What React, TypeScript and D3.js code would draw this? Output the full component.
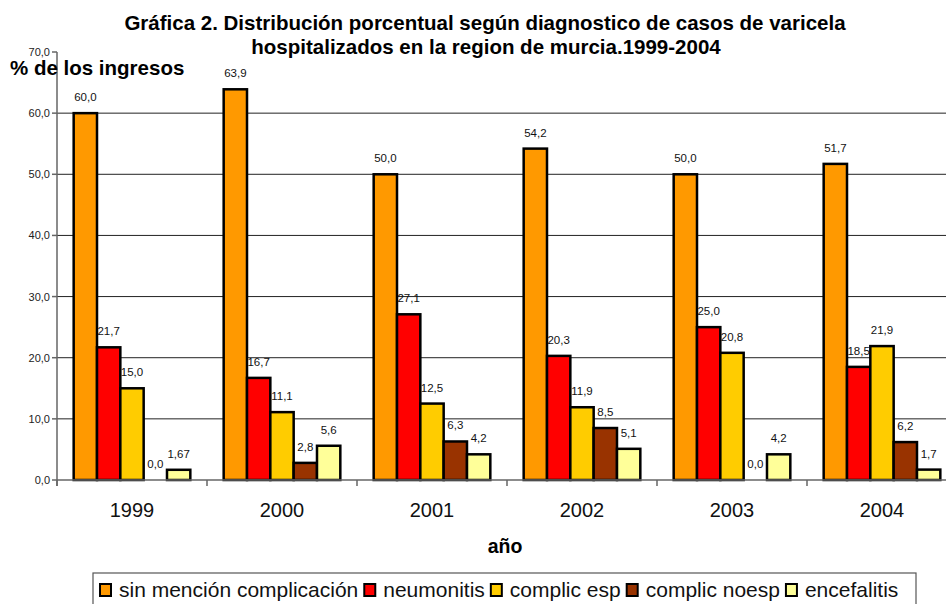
import { scaleBand, scaleLinear, range } from "d3";

const years = ["1999", "2000", "2001", "2002", "2003", "2004"];
const seriesNames = [
  "sin mención complicación",
  "neumonitis",
  "complic esp",
  "complic noesp",
  "encefalitis",
];
const sinMencion = [60.0, 63.9, 50.0, 54.2, 50.0, 51.7];
const neumonitis = [21.7, 16.7, 27.1, 20.3, 25.0, 18.5];
const complicEsp = [15.0, 11.1, 12.5, 11.9, 20.8, 21.9];
const complicNoesp = [0.0, 2.8, 6.3, 8.5, 0.0, 6.2];
const encefalitis = [1.67, 5.6, 4.2, 5.1, 4.2, 1.7];
const seriesColors = ["#FF9900", "#FF0000", "#FFCC00", "#993300", "#FFFF99"];
const yTicks = range(0, 71, 10);

const FONT = "'Liberation Sans', Arial, sans-serif";

function fmt(v: number) {
  const s = Math.round(v * 10) === v * 10 ? v.toFixed(1) : v.toFixed(2);
  return s.replace(".", ",");
}

function textWidth(str: string, size: number) {
  const c = document.createElement("canvas").getContext("2d");
  if (!c) return str.length * size * 0.5;
  c.font = `${size}px ${FONT}`;
  return c.measureText(str).width;
}

export default function App() {
  const W = 946;
  const H = 604;
  const left = 57;
  const top = 52;
  const bottom = 480;
  const groupW = 150;

  const values = [sinMencion, neumonitis, complicEsp, complicNoesp, encefalitis];

  const x0 = scaleBand<string>()
    .domain(years)
    .range([left, left + groupW * years.length]);
  const x1 = scaleBand<number>()
    .domain(range(seriesNames.length))
    .range([0, x0.bandwidth()])
    .paddingInner(0)
    .paddingOuter(0.715);
  const y = scaleLinear().domain([0, 70]).range([bottom, top]);

  // legend layout
  const legFont = 21;
  let lx = 100;
  const legendItems = seriesNames.map((name, i) => {
    const item = { name, color: seriesColors[i], x: lx };
    lx += 19 + textWidth(name, legFont) + 6;
    return item;
  });

  return (
    <svg
      width={W}
      height={H}
      style={{ position: "absolute", left: 0, top: 0, background: "#fff" }}
      fontFamily={FONT}
    >
      <rect width={W} height={H} fill="#fff" />
      <text x={485} y={29.5} textAnchor="middle" fontWeight="bold" fontSize={20.5}>
        Gráfica 2. Distribución porcentual según diagnostico de casos de varicela
      </text>
      <text x={486} y={53.5} textAnchor="middle" fontWeight="bold" fontSize={20.5}>
        hospitalizados en la region de murcia.1999-2004
      </text>

      {/* gridlines */}
      {yTicks
        .filter((t) => t > 0 && t < 70)
        .map((t) => (
          <line key={t} x1={left} x2={W} y1={y(t)} y2={y(t)} stroke="#222" strokeWidth={1} />
        ))}

      {/* y axis */}
      <line x1={left} x2={left} y1={top} y2={bottom + 6} stroke="#666" strokeWidth={1.5} />
      {yTicks.map((t) => (
        <g key={t}>
          <line x1={left - 5} x2={left} y1={y(t)} y2={y(t)} stroke="#666" strokeWidth={1.5} />
          <text x={50} y={y(t) + 4} textAnchor="end" fontSize={11} fill="#222">
            {fmt(t)}
          </text>
        </g>
      ))}

      <text x={10} y={75} fontWeight="bold" fontSize={20.5}>
        % de los ingresos
      </text>

      {/* bars */}
      {years.map((yr, gi) => (
        <g key={yr} transform={`translate(${x0(yr)},0)`}>
          {values.map((vals, si) => {
            const v = vals[gi];
            const bx = x1(si) as number;
            const bw = x1.bandwidth();
            return (
              <g key={si}>
                {v > 0 && (
                  <rect
                    x={bx}
                    y={y(v)}
                    width={bw}
                    height={bottom - y(v)}
                    fill={seriesColors[si]}
                    stroke="#000"
                    strokeWidth={2.5}
                  />
                )}
                <text
                  x={bx + bw / 2}
                  y={y(v) - 12}
                  textAnchor="middle"
                  fontSize={11.5}
                  fill="#111"
                >
                  {fmt(v)}
                </text>
              </g>
            );
          })}
        </g>
      ))}

      {/* x axis */}
      <line x1={left} x2={W} y1={bottom} y2={bottom} stroke="#666" strokeWidth={1.5} />
      {years.map((yr) => (
        <g key={yr}>
          <line
            x1={x0(yr) as number}
            x2={x0(yr) as number}
            y1={bottom}
            y2={bottom + 6}
            stroke="#666"
            strokeWidth={1.5}
          />
          <text
            x={(x0(yr) as number) + x0.bandwidth() / 2}
            y={517}
            textAnchor="middle"
            fontSize={20}
            fill="#111"
          >
            {yr}
          </text>
        </g>
      ))}

      <text x={505} y={553} textAnchor="middle" fontWeight="bold" fontSize={19.5}>
        año
      </text>

      {/* legend */}
      <rect x={93} y={573} width={823} height={36} fill="#fff" stroke="#555" strokeWidth={1.2} />
      {legendItems.map((it) => (
        <g key={it.name}>
          <rect
            x={it.x}
            y={584}
            width={11}
            height={12}
            fill={it.color}
            stroke="#000"
            strokeWidth={2}
          />
          <text x={it.x + 19} y={597} fontSize={legFont} fill="#111">
            {it.name}
          </text>
        </g>
      ))}
    </svg>
  );
}
